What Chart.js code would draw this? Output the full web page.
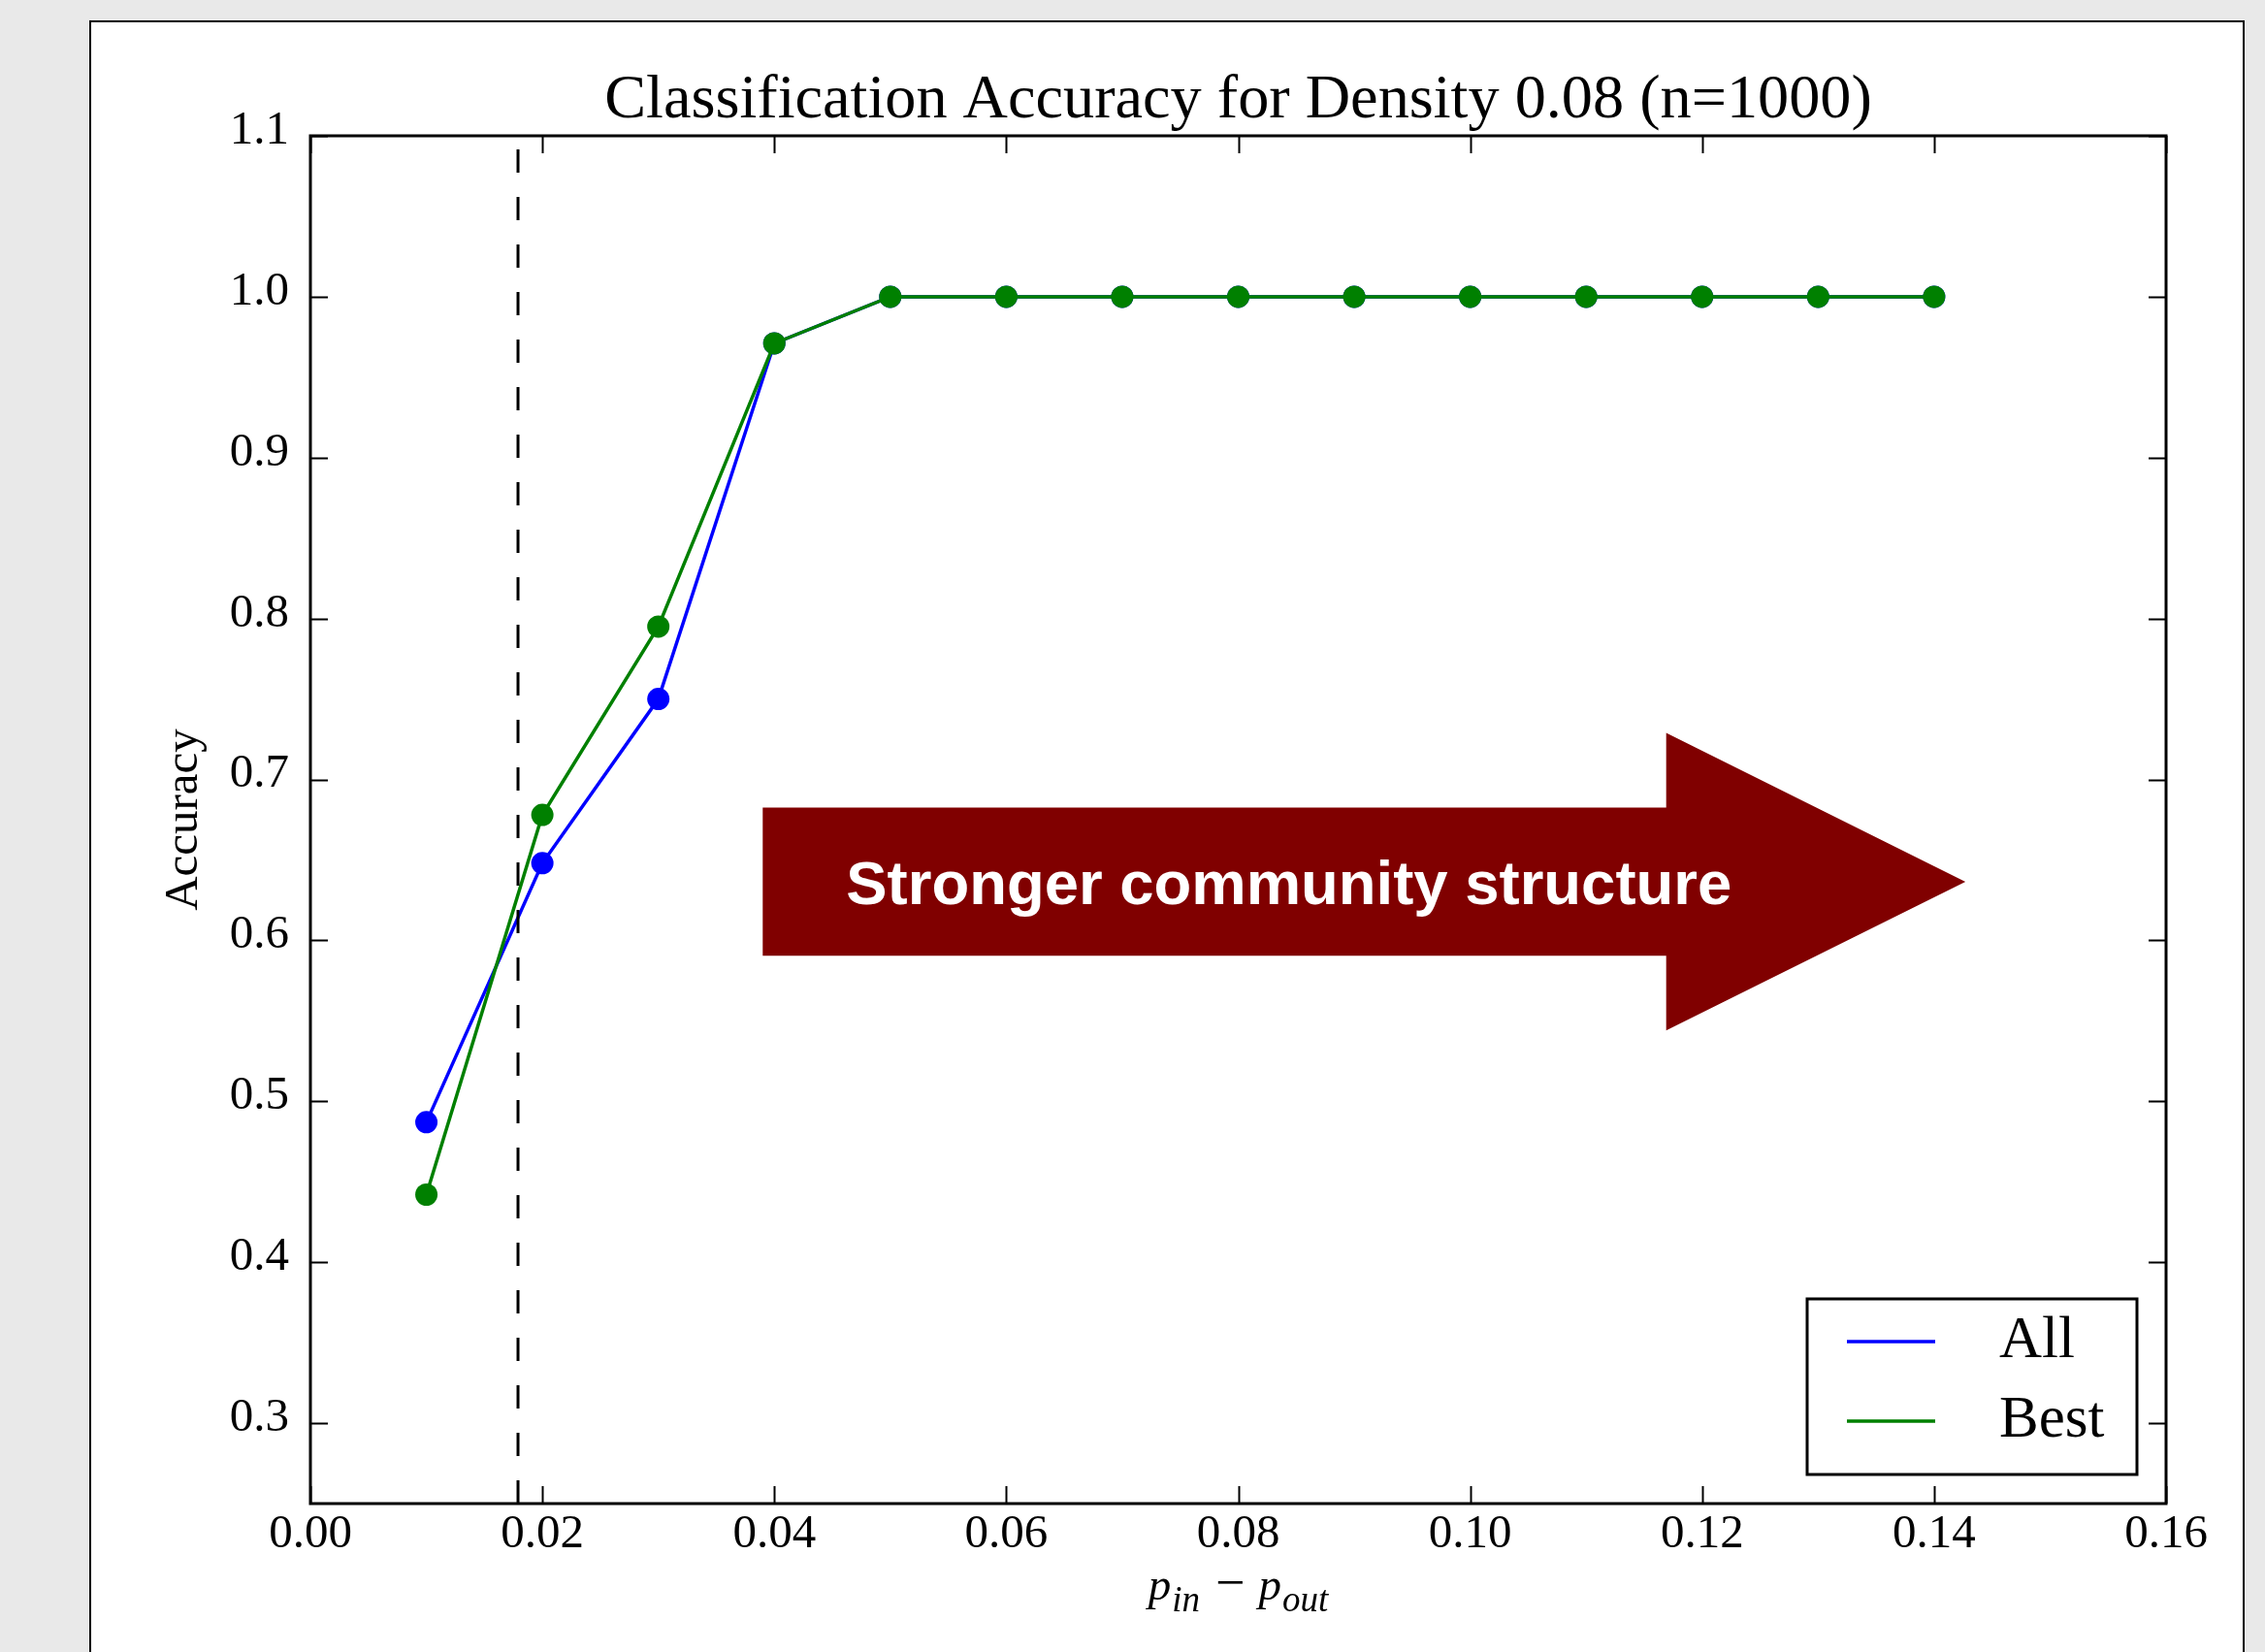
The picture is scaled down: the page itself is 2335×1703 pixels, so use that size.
<!DOCTYPE html>
<html>
<head>
<meta charset="utf-8">
<script src="https://cdn.jsdelivr.net/npm/chart.js@4.4.1/dist/chart.umd.min.js"></script>
<style>
  html, body { margin: 0; padding: 0; width: 2335px; height: 1703px; overflow: hidden; background: #e9e9e9; }
  #panel { position: absolute; left: 92px; top: 21px; width: 2222px; height: 1740px; box-sizing: border-box; border: 2px solid #000; background: #fff; }
  #grafico { position: absolute; left: 0; top: 0; }
</style>
</head>
<body>
<div id="panel"></div>
<canvas id="grafico" width="2335" height="1703"></canvas>
<script>
// p_in - p_out
const pDiff = [0.01, 0.02, 0.03, 0.04, 0.05, 0.06, 0.07, 0.08, 0.09, 0.10, 0.11, 0.12, 0.13, 0.14];
const accuracyAll  = [0.487, 0.648, 0.750, 0.971, 1.0, 1.0, 1.0, 1.0, 1.0, 1.0, 1.0, 1.0, 1.0, 1.0];
const accuracyBest = [0.442, 0.678, 0.795, 0.971, 1.0, 1.0, 1.0, 1.0, 1.0, 1.0, 1.0, 1.0, 1.0, 1.0];

// dashed vertical line
const thresholdX = 0.0179;
const thresholdY = [0.25, 1.1];

const xTicks = [0.00, 0.02, 0.04, 0.06, 0.08, 0.10, 0.12, 0.14, 0.16];
const yTicks = [0.3, 0.4, 0.5, 0.6, 0.7, 0.8, 0.9, 1.0, 1.1];

const titleText = "Classification Accuracy for Density 0.08 (n=1000)";
const arrowText = "Stronger community structure";

// arrow outline, in data units
const arrowShape = { tail: 0.039, neck: 0.1169, tip: 0.1427, bodyLow: 0.5904, bodyHigh: 0.6825, headLow: 0.544, headHigh: 0.7289 };

const serif = "'Liberation Serif', 'Times New Roman', serif";
const sans = "'Liberation Sans', Arial, sans-serif";

function fitSize(text, font, target) {
  const c = document.createElement("canvas").getContext("2d");
  c.font = font.replace("SIZE", "100px");
  return 100 * target / c.measureText(text).width;
}

const titleSize = fitSize(titleText, "SIZE " + serif, 1307);
const arrowSize = fitSize(arrowText, "bold SIZE " + sans, 913);
const titleTop = 104 - 0.5 * titleSize;
const titleBottom = Math.max(0, 140 - titleTop - titleSize);

const arrowPlugin = {
  id: "arrow",
  afterDatasetsDraw(chart) {
    const { ctx } = chart;
    const x = chart.scales.x, y = chart.scales.y;
    const a = arrowShape;
    const px = v => x.getPixelForValue(v);
    const py = v => y.getPixelForValue(v);
    const mid = (a.bodyLow + a.bodyHigh) / 2;
    ctx.save();
    ctx.fillStyle = "#800000";
    ctx.beginPath();
    ctx.moveTo(px(a.tail), py(a.bodyHigh));
    ctx.lineTo(px(a.neck), py(a.bodyHigh));
    ctx.lineTo(px(a.neck), py(a.headHigh));
    ctx.lineTo(px(a.tip), py(mid));
    ctx.lineTo(px(a.neck), py(a.headLow));
    ctx.lineTo(px(a.neck), py(a.bodyLow));
    ctx.lineTo(px(a.tail), py(a.bodyLow));
    ctx.closePath();
    ctx.fill();
    ctx.fillStyle = "#fff";
    ctx.font = "bold " + arrowSize + "px " + sans;
    ctx.textBaseline = "alphabetic";
    ctx.textAlign = "left";
    ctx.fillText(arrowText, px(a.tail) + 86, py(mid) + 0.358 * arrowSize);
    ctx.restore();
  }
};

const framePlugin = {
  id: "frame",
  afterDraw(chart) {
    const { ctx, chartArea: ca } = chart;
    const x = chart.scales.x, y = chart.scales.y;
    ctx.save();
    ctx.strokeStyle = "#000";
    ctx.lineWidth = 2;
    ctx.beginPath();
    xTicks.forEach(v => {
      const p = Math.round(x.getPixelForValue(v)) + 0.5;
      ctx.moveTo(p, ca.bottom); ctx.lineTo(p, ca.bottom - 18);
      ctx.moveTo(p, ca.top); ctx.lineTo(p, ca.top + 18);
    });
    yTicks.forEach(v => {
      const p = Math.round(y.getPixelForValue(v)) + 0.5;
      ctx.moveTo(ca.left, p); ctx.lineTo(ca.left + 18, p);
      ctx.moveTo(ca.right, p); ctx.lineTo(ca.right - 18, p);
    });
    ctx.stroke();
    ctx.lineWidth = 3;
    ctx.strokeRect(ca.left, ca.top, ca.right - ca.left, ca.bottom - ca.top);

    // legend box, lower right
    const bw = 340, bh = 181;
    const bx = ca.right - 30 - bw, by = ca.bottom - 30 - bh;
    ctx.fillStyle = "#fff";
    ctx.fillRect(bx, by, bw, bh);
    ctx.strokeRect(bx, by, bw, bh);
    ctx.font = "61px " + serif;
    ctx.textBaseline = "alphabetic";
    ctx.textAlign = "left";
    chart.data.datasets.slice(0, 2).forEach((ds, i) => {
      const ly = by + 44 + i * 82;
      ctx.strokeStyle = ds.borderColor;
      ctx.lineWidth = 3.5;
      ctx.beginPath();
      ctx.moveTo(bx + 41, ly); ctx.lineTo(bx + 132, ly);
      ctx.stroke();
      ctx.fillStyle = "#000";
      ctx.fillText(ds.label, bx + 198, ly + 16);
    });

    // x axis label: p_in - p_out
    const parts = [
      { t: "p", f: "italic 47px " + serif, dy: 0, gap: 1 },
      { t: "in", f: "italic 37px " + serif, dy: 12, gap: 16 },
      { t: "\u2212", f: "54px " + serif, dy: 0, gap: 14 },
      { t: "p", f: "italic 47px " + serif, dy: 0, gap: 1 },
      { t: "out", f: "italic 37px " + serif, dy: 12, gap: 0 }
    ];
    let total = 0;
    parts.forEach(p => { ctx.font = p.f; p.w = ctx.measureText(p.t).width; total += p.w + p.gap; });
    let cx = (ca.left + ca.right) / 2 - total / 2;
    const base = ca.bottom + 99;
    ctx.fillStyle = "#000";
    parts.forEach(p => {
      ctx.font = p.f;
      ctx.fillText(p.t, cx, base + p.dy);
      cx += p.w + p.gap;
    });
    ctx.restore();
  }
};

const ctx = document.getElementById("grafico");

new Chart(ctx, {
  type: "line",
  data: {
    datasets: [
      {
        label: "All",
        data: pDiff.map((v, i) => ({ x: v, y: accuracyAll[i] })),
        borderColor: "#0000ff",
        backgroundColor: "#0000ff",
        borderWidth: 3.5,
        pointRadius: 11.5,
        pointBorderWidth: 0,
        tension: 0,
        order: 2
      },
      {
        label: "Best",
        data: pDiff.map((v, i) => ({ x: v, y: accuracyBest[i] })),
        borderColor: "#008000",
        backgroundColor: "#008000",
        borderWidth: 3.5,
        pointRadius: 11.5,
        pointBorderWidth: 0,
        tension: 0,
        order: 1
      },
      {
        label: "threshold",
        data: thresholdY.map(v => ({ x: thresholdX, y: v })),
        borderColor: "#000",
        borderWidth: 3,
        borderDash: [24, 25],
        pointRadius: 0,
        order: 0
      }
    ]
  },
  options: {
    responsive: false,
    animation: false,
    devicePixelRatio: 1,
    layout: { padding: { left: 0, right: 102, top: 0, bottom: 0 } },
    scales: {
      x: {
        type: "linear",
        min: 0,
        max: 0.16,
        afterBuildTicks: s => { s.ticks = xTicks.map(v => ({ value: v })); },
        afterFit: s => { s.height = 153; },
        grid: { display: false, drawTicks: false },
        border: { display: false },
        ticks: {
          color: "#000",
          font: { family: serif, size: 49 },
          padding: 3,
          maxRotation: 0,
          autoSkip: false,
          callback: v => v.toFixed(2)
        }
      },
      y: {
        type: "linear",
        min: 0.25,
        max: 1.1,
        afterBuildTicks: s => { s.ticks = yTicks.map(v => ({ value: v })); },
        afterFit: s => { s.width = 320; },
        grid: { display: false, drawTicks: false },
        border: { display: false },
        ticks: {
          color: "#000",
          font: { family: serif, size: 49 },
          padding: 22,
          labelOffset: -5,
          autoSkip: false,
          callback: v => v.toFixed(1)
        },
        title: {
          display: true,
          text: "Accuracy",
          color: "#000",
          font: { family: serif, size: 49 },
          padding: { top: 161, bottom: 0 }
        }
      }
    },
    plugins: {
      legend: { display: false },
      tooltip: { enabled: false },
      title: {
        display: true,
        fullSize: false,
        text: titleText,
        color: "#000",
        font: { family: serif, size: titleSize, weight: "normal", lineHeight: 1 },
        padding: { top: titleTop, bottom: titleBottom }
      }
    }
  },
  plugins: [arrowPlugin, framePlugin]
});
</script>
</body>
</html>
